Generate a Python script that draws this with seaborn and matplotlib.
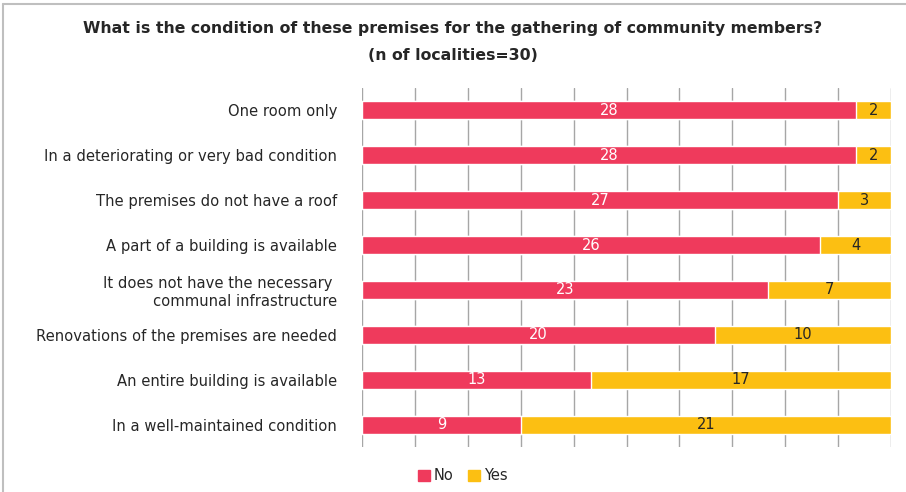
import pandas as pd
import numpy as np
import matplotlib.pyplot as plt
import seaborn as sns
from matplotlib.lines import Line2D
from matplotlib.patches import Patch


categories = [
    "One room only",
    "In a deteriorating or very bad condition",
    "The premises do not have a roof",
    "A part of a building is available",
    "It does not have the necessary \ncommunal infrastructure",
    "Renovations of the premises are needed",
    "An entire building is available",
    "In a well-maintained condition",
]
no_counts = [28, 28, 27, 26, 23, 20, 13, 9]
yes_counts = [2, 2, 3, 4, 7, 10, 17, 21]

red = "#EF3A5C"
yellow = "#FCBF12"

df = pd.DataFrame({"cat": categories, "No": no_counts, "Yes": yes_counts})
df["Total"] = df["No"] + df["Yes"]

sns.set_style("white")
plt.rcParams["font.family"] = ["DejaVu Sans"]

fig = plt.figure(figsize=(9.06, 4.92), dpi=100)
ax = fig.add_axes([362 / 906, 1 - 447 / 492, (891 - 362) / 906, (447 - 88) / 492])

# yellow = full bar (No + Yes), red drawn over it
sns.barplot(data=df, x="Total", y="cat", color=yellow, width=0.4, saturation=1, ax=ax)
sns.barplot(data=df, x="No", y="cat", color=red, width=0.4, saturation=1, ax=ax)

yes_bars = ax.containers[0]
no_bars = ax.containers[1]
for bar, yv in zip(yes_bars, df["Yes"]):
    w = bar.get_width()
    y = bar.get_y() + bar.get_height() / 2
    ax.text(w - yv / 2, y, str(yv), ha="center", va="center", fontsize=10.5, color="#262626")
ax.bar_label(no_bars, labels=[str(v) for v in df["No"]], label_type="center",
             fontsize=10.5, color="white")

ax.set_xlim(0, 30)
ax.set_ylim(7.5, -0.5)
ax.set_xticks(np.arange(0, 31, 3))
ax.set_xticklabels([])
ax.grid(axis="x", color="#A6A6A6", linewidth=1)
ax.set_axisbelow(True)
ax.set_xlabel("")
ax.set_ylabel("")
ax.tick_params(axis="both", length=0)
ax.tick_params(axis="y", pad=18, labelsize=10.6, labelcolor="#262626")
for s in ax.spines.values():
    s.set_visible(False)

fig.text(0.5, 1 - 28 / 492, "What is the condition of these premises for the gathering of community members?",
         ha="center", va="center", fontsize=11.3, fontweight="bold", color="#262626")
fig.text(0.5, 1 - 55 / 492, "(n of localities=30)",
         ha="center", va="center", fontsize=11.3, fontweight="bold", color="#262626")

handles = [Patch(color=red, label="No"), Patch(color=yellow, label="Yes")]
fig.legend(handles=handles, loc="center", bbox_to_anchor=(463 / 906, 1 - 476 / 492), ncol=2,
           frameon=False, fontsize=10.5, handlelength=0.8, handleheight=0.8,
           handletextpad=0.3, columnspacing=1.0)

# frame: only left and top edges show in the reference
fig.add_artist(Line2D([3 / 906, 3 / 906], [0, 1 - 4 / 492], transform=fig.transFigure,
                      color="#BFBFBF", linewidth=1.5))
fig.add_artist(Line2D([3 / 906, 1], [1 - 4 / 492, 1 - 4 / 492], transform=fig.transFigure,
                      color="#BFBFBF", linewidth=1.5))

fig.savefig("out.png", dpi=100)
